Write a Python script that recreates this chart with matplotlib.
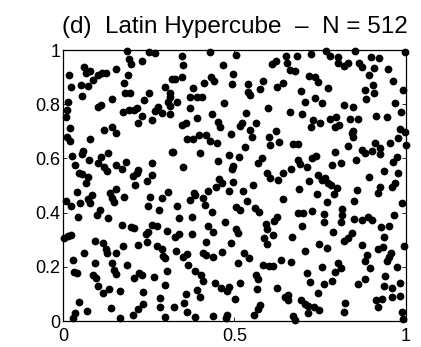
import matplotlib
matplotlib.use("Agg")
import matplotlib.pyplot as plt

# sample points (unit square)
x_top = [0.186, 0.252, 0.268, 0.192, 0.198, 0.231, 0.062, 0.066, 0.079, 0.155,
         0.017, 0.103, 0.115, 0.125, 0.189, 0.088, 0.023, 0.052, 0.072, 0.179,
         0.297, 0.317, 0.181, 0.195, 0.252, 0.056, 0.312, 0.312, 0.016, 0.144,
         0.237, 0.101, 0.111, 0.307, 0.312, 0.012, 0.176, 0.192, 0.208, 0.215,
         0.268, 0.278, 0.288, 0.231, 0.008, 0.260, 0.220, 0.312, 0.020, 0.121,
         0.144,
         0.346, 0.349, 0.429, 0.504, 0.466, 0.495, 0.609, 0.621, 0.650, 0.652,
         0.327, 0.346, 0.412, 0.431, 0.441, 0.492, 0.540, 0.584, 0.574, 0.623,
         0.642, 0.378, 0.370, 0.390, 0.405, 0.333, 0.540, 0.545, 0.469, 0.599,
         0.370, 0.433, 0.534, 0.346, 0.359, 0.392, 0.453, 0.458, 0.521, 0.516,
         0.563, 0.545, 0.621,
         0.681, 0.723, 0.766, 0.778, 0.801, 0.803, 0.820, 0.832, 0.851, 0.863,
         0.873, 0.898, 0.921, 0.908, 0.947, 0.997, 0.662, 0.676, 0.717, 0.735,
         0.744, 0.694, 0.774, 0.892, 0.879, 0.905, 0.908, 0.963, 0.992, 0.706,
         0.735, 0.756, 0.882, 0.820, 0.846, 0.968, 0.985, 0.662, 0.696, 0.730,
         0.723, 0.749, 0.778, 0.795, 0.793, 0.805, 0.837, 0.861, 0.912, 0.944,
         0.846, 0.983, 0.997]
y_top = [0.995, 0.993, 0.988, 0.966, 0.948, 0.958, 0.938, 0.916, 0.924, 0.931,
         0.908, 0.909, 0.916, 0.914, 0.909, 0.889, 0.865, 0.871, 0.867, 0.879,
         0.865, 0.892, 0.840, 0.843, 0.843, 0.830, 0.843, 0.825, 0.809, 0.820,
         0.815, 0.791, 0.798, 0.809, 0.793, 0.779, 0.772, 0.779, 0.779, 0.785,
         0.776, 0.791, 0.769, 0.756, 0.752, 0.742, 0.732, 0.764, 0.711, 0.705,
         0.715,
         0.979, 0.945, 0.993, 0.982, 0.943, 0.911, 0.948, 0.961, 0.978, 0.953,
         0.892, 0.902, 0.879, 0.899, 0.887, 0.875, 0.873, 0.884, 0.855, 0.862,
         0.877, 0.859, 0.825, 0.828, 0.828, 0.809, 0.846, 0.834, 0.806, 0.786,
         0.785, 0.764, 0.766, 0.723, 0.732, 0.748, 0.736, 0.715, 0.732, 0.720,
         0.729, 0.705, 0.702,
         0.978, 0.985, 0.995, 0.978, 0.973, 0.953, 0.941, 0.953, 0.998, 0.953,
         0.938, 0.973, 0.969, 0.932, 0.929, 0.993, 0.926, 0.924, 0.904, 0.899,
         0.883, 0.850, 0.859, 0.908, 0.852, 0.871, 0.840, 0.887, 0.852, 0.809,
         0.822, 0.803, 0.818, 0.797, 0.791, 0.806, 0.772, 0.772, 0.764, 0.742,
         0.717, 0.729, 0.744, 0.752, 0.715, 0.723, 0.744, 0.747, 0.756, 0.754,
         0.702, 0.707, 0.699]

x_mid = [0.011, 0.020, 0.156, 0.079, 0.132, 0.027, 0.054, 0.059, 0.076, 0.111,
         0.103, 0.121, 0.127, 0.035, 0.047, 0.054, 0.072, 0.066, 0.156, 0.171,
         0.183, 0.259, 0.259, 0.205, 0.215, 0.220, 0.210, 0.244, 0.317, 0.040,
         0.086, 0.137, 0.144, 0.154, 0.150, 0.179, 0.008, 0.023, 0.050, 0.074,
         0.079, 0.108, 0.098, 0.043, 0.130, 0.254, 0.249, 0.290, 0.280, 0.307,
         0.361, 0.378, 0.397, 0.417, 0.429, 0.448, 0.489, 0.550, 0.602, 0.603,
         0.631, 0.322, 0.399, 0.485, 0.514, 0.531, 0.579, 0.569, 0.351, 0.453,
         0.492, 0.497, 0.594, 0.603, 0.628, 0.642, 0.382, 0.370, 0.385, 0.424,
         0.446, 0.456, 0.465, 0.497, 0.485, 0.524, 0.553, 0.409, 0.414, 0.333,
         0.433, 0.504, 0.516, 0.537, 0.560, 0.572, 0.640, 0.339, 0.375, 0.472,
         0.623, 0.615,
         0.842, 0.846, 0.672, 0.684, 0.830, 0.793, 0.873, 0.880, 0.902, 0.910,
         0.924, 0.924, 0.953, 0.976, 0.999, 0.686, 0.691, 0.665, 0.710, 0.725,
         0.737, 0.783, 0.810, 0.853, 0.973, 0.963, 0.744, 0.754, 0.764, 0.772,
         0.781, 0.717, 0.892, 0.937, 0.978, 0.798, 0.688, 0.740, 0.769, 0.791,
         0.856, 0.849, 0.924, 0.917, 0.958, 0.968, 0.989, 0.686, 0.701, 0.727,
         0.762, 0.814, 0.812, 0.849, 0.871, 0.888, 0.902, 0.966, 0.762, 0.810]
y_mid = [0.678, 0.665, 0.692, 0.670, 0.621, 0.609, 0.616, 0.629, 0.594, 0.604,
         0.582, 0.570, 0.552, 0.576, 0.547, 0.542, 0.533, 0.508, 0.577, 0.560,
         0.588, 0.582, 0.539, 0.535, 0.547, 0.557, 0.502, 0.518, 0.625, 0.477,
         0.465, 0.471, 0.453, 0.486, 0.439, 0.456, 0.444, 0.424, 0.437, 0.449,
         0.434, 0.410, 0.391, 0.383, 0.379, 0.459, 0.424, 0.453, 0.410, 0.477,
         0.670, 0.670, 0.686, 0.686, 0.665, 0.656, 0.690, 0.680, 0.680, 0.649,
         0.662, 0.625, 0.619, 0.613, 0.606, 0.643, 0.600, 0.584, 0.567, 0.592,
         0.560, 0.572, 0.545, 0.526, 0.520, 0.545, 0.474, 0.446, 0.465, 0.481,
         0.493, 0.523, 0.510, 0.514, 0.480, 0.481, 0.502, 0.453, 0.428, 0.424,
         0.403, 0.422, 0.410, 0.444, 0.416, 0.403, 0.449, 0.379, 0.385, 0.367,
         0.383, 0.370,
         0.692, 0.678, 0.653, 0.653, 0.646, 0.625, 0.631, 0.621, 0.629, 0.656,
         0.637, 0.616, 0.656, 0.674, 0.649, 0.594, 0.579, 0.560, 0.569, 0.600,
         0.609, 0.576, 0.584, 0.594, 0.606, 0.588, 0.539, 0.520, 0.526, 0.510,
         0.502, 0.518, 0.530, 0.555, 0.547, 0.490, 0.486, 0.469, 0.440, 0.469,
         0.483, 0.444, 0.496, 0.471, 0.496, 0.508, 0.434, 0.400, 0.397, 0.407,
         0.395, 0.412, 0.391, 0.375, 0.373, 0.383, 0.373, 0.391, 0.367, 0.367]

x_low = [0.171, 0.198, 0.208, 0.259, 0.273, 0.247, 0.241, 0.302, 0.004, 0.014,
         0.023, 0.093, 0.118, 0.124, 0.127, 0.154, 0.176, 0.220, 0.244, 0.273,
         0.290, 0.293, 0.297, 0.062, 0.030, 0.093, 0.142, 0.150, 0.156, 0.186,
         0.033, 0.040, 0.088, 0.095, 0.101, 0.118, 0.134, 0.166, 0.208, 0.222,
         0.229, 0.266, 0.302, 0.234, 0.297, 0.047, 0.035, 0.030, 0.069, 0.140,
         0.166, 0.205, 0.220, 0.234, 0.283, 0.283, 0.297,
         0.424, 0.438, 0.504, 0.511, 0.592, 0.594, 0.327, 0.339, 0.375, 0.417,
         0.489, 0.329, 0.351, 0.361, 0.407, 0.417, 0.436, 0.465, 0.511, 0.528,
         0.543, 0.586, 0.594, 0.613, 0.584, 0.602, 0.611, 0.635, 0.365, 0.385,
         0.401, 0.407, 0.443, 0.460, 0.477, 0.516, 0.563, 0.569, 0.567, 0.625,
         0.647, 0.359, 0.392, 0.399, 0.501, 0.353, 0.324, 0.362, 0.385, 0.438,
         0.477, 0.475, 0.574, 0.569, 0.557, 0.485,
         0.698, 0.927, 0.949, 0.788, 0.669, 0.820, 0.832, 0.844, 0.937, 0.746,
         0.769, 0.706, 0.873, 0.919, 0.934, 0.995, 0.885, 0.879, 0.956, 0.950,
         0.944, 0.665, 0.754, 0.803, 0.810, 0.793, 0.895, 0.973, 0.710, 0.720,
         0.762, 0.783, 0.742, 0.861, 0.879, 0.939, 0.937, 0.958, 0.983, 0.655,
         0.655, 0.694, 0.706, 0.715, 0.733, 0.746, 0.713, 0.822, 0.820, 0.912,
         0.931, 0.960, 0.983, 0.917, 0.987, 0.992, 0.672, 0.676]
y_low = [0.354, 0.348, 0.342, 0.354, 0.351, 0.330, 0.321, 0.333, 0.305, 0.314,
         0.317, 0.296, 0.287, 0.264, 0.252, 0.250, 0.277, 0.280, 0.293, 0.277,
         0.264, 0.240, 0.231, 0.252, 0.225, 0.213, 0.215, 0.188, 0.173, 0.207,
         0.182, 0.176, 0.170, 0.157, 0.129, 0.105, 0.117, 0.112, 0.157, 0.176,
         0.170, 0.161, 0.186, 0.108, 0.133, 0.071, 0.031, 0.010, 0.038, 0.047,
         0.010, 0.022, 0.043, 0.063, 0.084, 0.050, 0.014,
         0.351, 0.330, 0.338, 0.323, 0.358, 0.338, 0.311, 0.321, 0.321, 0.293,
         0.287, 0.260, 0.237, 0.247, 0.252, 0.244, 0.235, 0.256, 0.213, 0.252,
         0.231, 0.305, 0.284, 0.317, 0.207, 0.203, 0.203, 0.225, 0.207, 0.186,
         0.170, 0.149, 0.139, 0.121, 0.112, 0.141, 0.170, 0.154, 0.117, 0.121,
         0.090, 0.100, 0.114, 0.090, 0.080, 0.068, 0.050, 0.034, 0.016, 0.018,
         0.022, 0.010, 0.059, 0.043, 0.022, 0.127,
         0.351, 0.346, 0.351, 0.330, 0.311, 0.296, 0.305, 0.323, 0.311, 0.284,
         0.268, 0.260, 0.280, 0.264, 0.274, 0.277, 0.244, 0.223, 0.250, 0.235,
         0.223, 0.219, 0.200, 0.215, 0.194, 0.182, 0.194, 0.198, 0.178, 0.145,
         0.137, 0.149, 0.105, 0.137, 0.154, 0.166, 0.129, 0.121, 0.139, 0.096,
         0.077, 0.077, 0.063, 0.055, 0.050, 0.041, 0.028, 0.068, 0.034, 0.077,
         0.080, 0.087, 0.092, 0.050, 0.034, 0.006, 0.018, 0.004]

xs = x_top + x_mid + x_low
ys = y_top + y_mid + y_low

plt.rcParams['font.family'] = ['Liberation Sans', 'DejaVu Sans']

fig = plt.figure(figsize=(4.21, 3.47), dpi=100)
ax = fig.add_axes([0.1496, 0.0749, 0.8148, 0.7810])

ax.plot(xs, ys, 'o', color='black', markersize=5.6, markeredgewidth=0, clip_on=False, zorder=3)

ax.set_xlim(0, 1)
ax.set_ylim(0, 1)
ax.set_xticks([0, 0.5, 1])
ax.set_xticklabels(['0', '0.5', '1'])
ax.set_yticks([0, 0.2, 0.4, 0.6, 0.8, 1])
ax.set_yticklabels(['0', '0.2', '0.4', '0.6', '0.8', '1'])
ax.tick_params(direction='in', length=3, width=0.6, labelsize=13, pad=2,
               top=True, right=True)
ax.tick_params(axis='x', pad=5)
for s in ax.spines.values():
    s.set_linewidth(0.9)

ax.set_title('(d)  Latin Hypercube  \u2013  N = 512', fontsize=17.5, pad=12)

fig.savefig('out.png', dpi=100)
